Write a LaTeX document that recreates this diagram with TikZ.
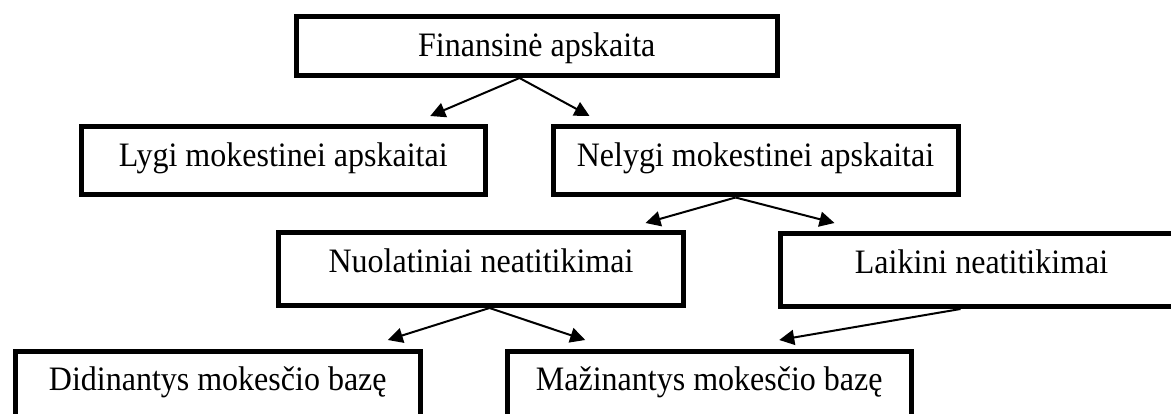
\documentclass[tikz,border=0pt]{standalone}
\usepackage{fontspec}
\usepackage{graphicx}
\setmainfont{Liberation Serif}
\usetikzlibrary{arrows.meta}
\newcommand{\tallTxt}[1]{\scalebox{1}[1.07]{#1}}
\begin{document}
\begin{tikzpicture}[x=1pt,y=-1pt,
  box/.style={draw, line width=5pt, inner sep=0pt, minimum height=0pt,
    text height=40.5pt, anchor=north west, font=\fontsize{32}{38}\selectfont},
  conn/.style={-{Triangle[length=15pt,width=15pt]}, line width=2pt}]
\clip (0,0) rectangle (1171,414);
\fill[white] (0,0) rectangle (1171,414);
% boxes
\node[box, minimum width=480.5pt, text depth=18.5pt] (fa) at (294,14) {\tallTxt{Finansinė apskaita}};
\node[box, minimum width=404.5pt, text depth=28pt] (lyg) at (78.5,124) {\tallTxt{Lygi mokestinei apskaitai}};
\node[box, minimum width=405pt, text depth=28pt] (nel) at (550.5,124) {\tallTxt{Nelygi mokestinei apskaitai}};
\node[box, minimum width=405pt, text depth=32.5pt] (nuo) at (276,230) {\tallTxt{Nuolatiniai neatitikimai}};
\node[box, minimum width=403pt, text depth=32.5pt] (lai) at (777.5,231) {\tallTxt{Laikini neatitikimai}};
\node[box, minimum width=405.5pt, text height=39pt, text depth=80pt] (did) at (12.5,349) {\tallTxt{Didinantys mokesčio bazę}};
\node[box, minimum width=404.5pt, text height=39pt, text depth=80pt] (maz) at (504.5,349) {\tallTxt{Mažinantys mokesčio bazę}};
% connectors
\draw[conn] ([xshift=-17.25pt]fa.south) -- ([xshift=147pt,yshift=8pt]lyg.north);
\draw[conn] ([xshift=-17.25pt]fa.south) -- ([xshift=-166pt,yshift=8pt]nel.north);
\draw[conn] ([xshift=-20pt]nel.south) -- ([xshift=164.5pt,yshift=7pt]nuo.north);
\draw[conn] ([xshift=-20pt]nel.south) -- ([xshift=-147pt,yshift=8pt]lai.north);
\draw[conn] ([xshift=8.5pt]nuo.south) -- ([xshift=170pt,yshift=9pt]did.north);
\draw[conn] ([xshift=8.5pt]nuo.south) -- ([xshift=-124pt,yshift=9pt]maz.north);
\draw[conn] ([xshift=-21pt]lai.south) -- ([xshift=70pt,yshift=9pt]maz.north);
\end{tikzpicture}
\end{document}
